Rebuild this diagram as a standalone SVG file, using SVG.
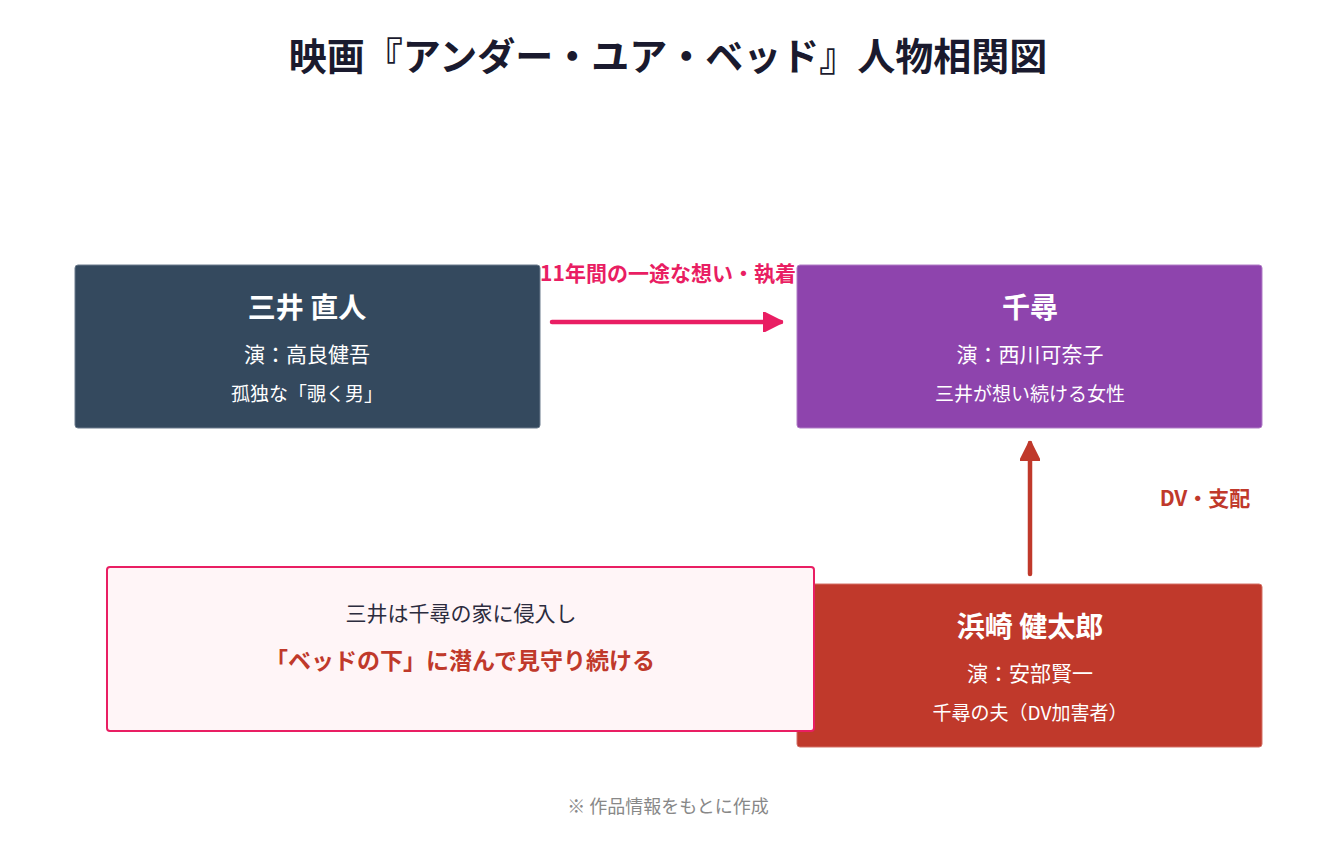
<svg xmlns="http://www.w3.org/2000/svg" width="1337" height="853" viewBox="0 0 1337 853">
<style>
text{font-family:"Noto Sans CJK JP","Noto Sans",sans-serif;text-anchor:middle}
.title{font-size:38px;font-weight:700;fill:#1a1a2e}
.name{font-size:28px;font-weight:700;fill:#fff}
.actor{font-size:21px;fill:#fff}
.desc{font-size:19px;fill:#fff}
.box{stroke-width:1;rx:3}
.lbl{font-size:21px;font-weight:700}
</style>
<defs>
<marker id="ahPink" viewBox="0 0 10 10" refX="9" refY="5" markerWidth="4.4" markerHeight="4.4" orient="auto" markerUnits="strokeWidth">
<path d="M0,0 L10,5 L0,10 z" fill="#e91e63" stroke="#e91e63" stroke-linejoin="round"/>
</marker>
<marker id="ahRed" viewBox="0 0 10 10" refX="9" refY="5" markerWidth="4.4" markerHeight="4.4" orient="auto" markerUnits="strokeWidth">
<path d="M0,0 L10,5 L0,10 z" fill="#c0392b" stroke="#c0392b" stroke-linejoin="round"/>
</marker>
</defs>
<rect width="1337" height="853" fill="#fff"/>
<text class="title" x="668" y="70">映画『アンダー・ユア・ベッド』人物相関図</text>

<g id="connectors">
<line x1="552" y1="322" x2="781" y2="322" stroke="#e91e63" stroke-width="4.5" stroke-linecap="round" marker-end="url(#ahPink)"/>
<text class="lbl" x="668" y="281" fill="#e91e63">11年間の一途な想い・執着</text>
<line x1="1030" y1="574" x2="1030" y2="443" stroke="#c0392b" stroke-width="4.5" stroke-linecap="round" marker-end="url(#ahRed)"/>
<text class="lbl" x="1205" y="506" fill="#c0392b">DV・支配</text>
</g>

<g id="mitsui">
<rect class="box" x="75" y="265" width="465" height="163" fill="#34495e" stroke="#6b7b8c"/>
<text class="name" x="307" y="318">三井 直人</text>
<text class="actor" x="307" y="362">演：高良健吾</text>
<text class="desc" x="307" y="401">孤独な「覗く男」</text>
</g>

<g id="chihiro">
<rect class="box" x="797" y="265" width="465" height="163" fill="#8e44ad" stroke="#b07cc6"/>
<text class="name" x="1030" y="318">千尋</text>
<text class="actor" x="1030" y="362">演：西川可奈子</text>
<text class="desc" x="1030" y="401">三井が想い続ける女性</text>
</g>

<g id="hamasaki">
<rect class="box" x="797" y="584" width="465" height="163" fill="#c0392b" stroke="#d47066"/>
<text class="name" x="1030" y="637">浜崎 健太郎</text>
<text class="actor" x="1030" y="681">演：安部賢一</text>
<text class="desc" x="1030" y="720">千尋の夫（DV加害者）</text>
</g>

<g id="note">
<rect x="107" y="567" width="707" height="164" rx="3" fill="#fff5f7" stroke="#e91e63" stroke-width="2"/>
<text x="461" y="621" font-size="21" fill="#2c2c3e">三井は千尋の家に侵入し</text>
<text x="460" y="669" font-size="23" font-weight="700" fill="#c0392b">「ベッドの下」に潜んで見守り続ける</text>
</g>

<text x="668" y="813" font-size="18" fill="#888">※ 作品情報をもとに作成</text>
</svg>
